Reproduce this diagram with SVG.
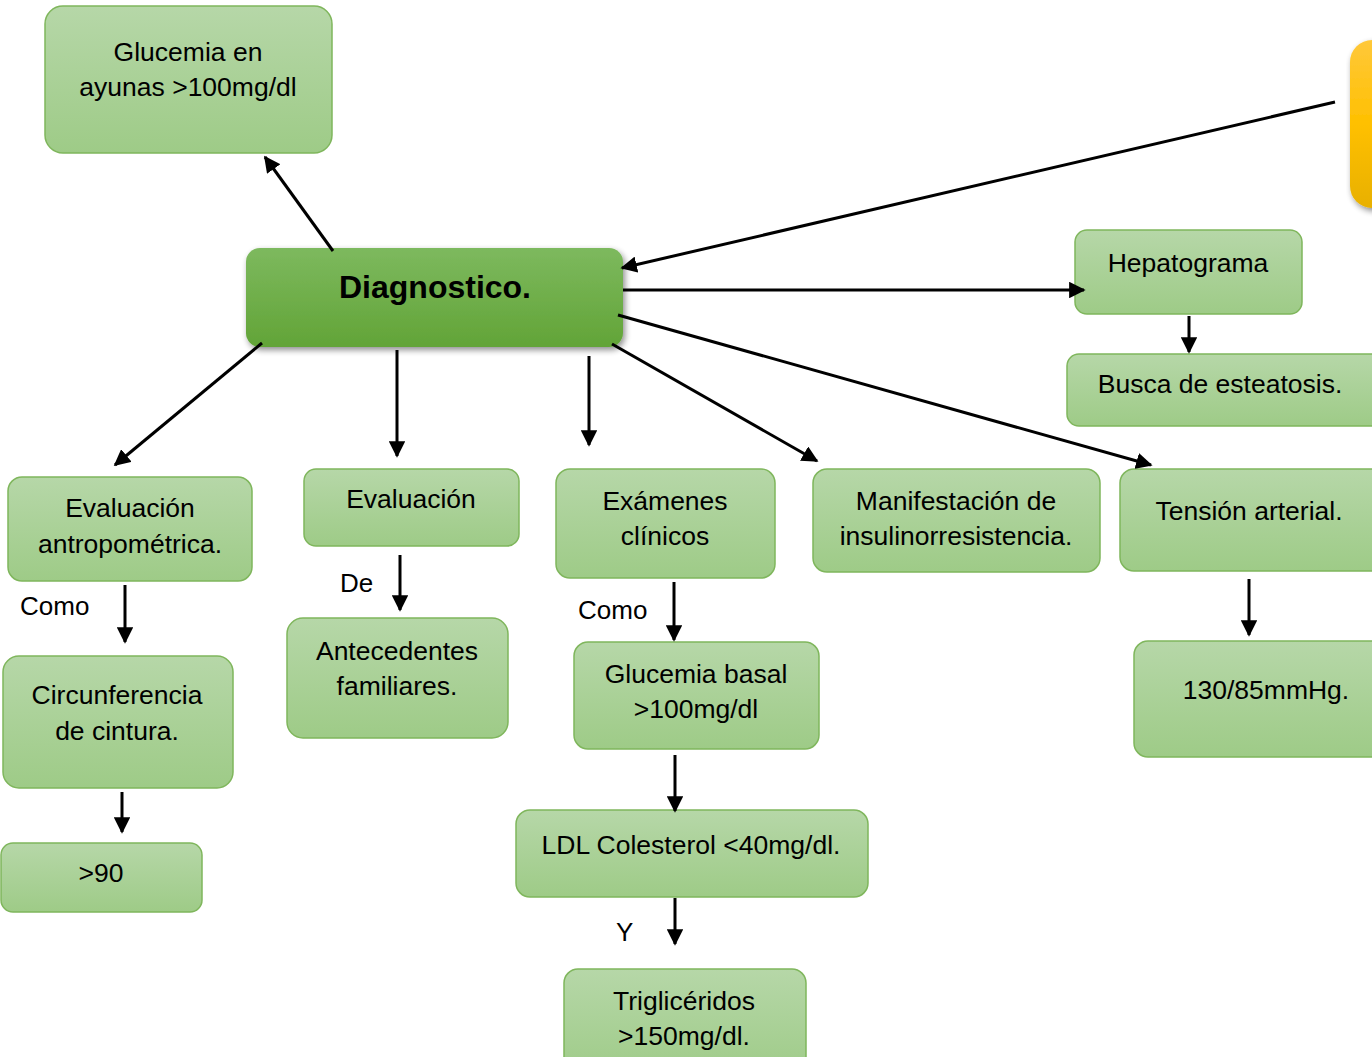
<svg xmlns="http://www.w3.org/2000/svg" width="1372" height="1057" viewBox="0 0 1372 1057">
<defs>
<linearGradient id="lg" x1="0" y1="0" x2="0" y2="1"><stop offset="0" stop-color="#b6d7a8"/><stop offset="1" stop-color="#9ecb87"/></linearGradient>
<linearGradient id="dg" x1="0" y1="0" x2="0" y2="1"><stop offset="0" stop-color="#7db95e"/><stop offset="1" stop-color="#62a437"/></linearGradient>
<linearGradient id="og" x1="0" y1="0" x2="0" y2="1"><stop offset="0" stop-color="#ffc83a"/><stop offset="0.5" stop-color="#ffc000"/><stop offset="1" stop-color="#e8b000"/></linearGradient>
<filter id="sh" x="-10%" y="-10%" width="125%" height="130%"><feGaussianBlur in="SourceAlpha" stdDeviation="3"/><feOffset dx="2" dy="3"/><feComponentTransfer><feFuncA type="linear" slope="0.45"/></feComponentTransfer><feMerge><feMergeNode/><feMergeNode in="SourceGraphic"/></feMerge></filter>
<marker id="ah" viewBox="0 0 10 10" refX="9" refY="5" markerWidth="5.5" markerHeight="5.5" orient="auto" markerUnits="strokeWidth"><path d="M0,0 L10,5 L0,10 Z" fill="#000"/></marker>
</defs>
<style>
.n{fill:url(#lg);stroke:#7fb65c;stroke-width:1.5}
.t{font-family:"Liberation Sans",Arial,sans-serif;font-size:26.5px;fill:#000;text-anchor:middle}
.l{font-family:"Liberation Sans",Arial,sans-serif;font-size:26px;fill:#000}
.c line{stroke:#000;stroke-width:3;marker-end:url(#ah)}
</style>
<rect width="1372" height="1057" fill="#fff"/>
<g id="glucemia-ayunas"><rect class="n" x="45" y="6" width="287" height="147" rx="18"/><text class="t" x="188" y="61">Glucemia en</text><text class="t" x="188" y="96">ayunas &gt;100mg/dl</text></g>
<g id="diagnostico"><rect x="246" y="248" width="377" height="99" rx="14" fill="url(#dg)" filter="url(#sh)"/><text x="435" y="298" font-family="Liberation Sans,Arial,sans-serif" font-size="32" font-weight="bold" text-anchor="middle">Diagnostico.</text></g>
<g id="orange"><rect x="1350" y="40" width="60" height="168" rx="22" fill="url(#og)" filter="url(#sh)"/></g>
<g id="hepatograma"><rect class="n" x="1075" y="230" width="227" height="84" rx="12"/><text class="t" x="1188" y="272">Hepatograma</text></g>
<g id="esteatosis"><rect class="n" x="1067" y="354" width="320" height="72" rx="12"/><text class="t" x="1220" y="393">Busca de esteatosis.</text></g>
<g id="antropometrica"><rect class="n" x="8" y="477" width="244" height="104" rx="14"/><text class="t" x="130" y="517">Evaluación</text><text class="t" x="130" y="553">antropométrica.</text></g>
<g id="evaluacion"><rect class="n" x="304" y="469" width="215" height="77" rx="12"/><text class="t" x="411" y="508">Evaluación</text></g>
<g id="examenes"><rect class="n" x="556" y="469" width="219" height="109" rx="14"/><text class="t" x="665" y="510">Exámenes</text><text class="t" x="665" y="545">clínicos</text></g>
<g id="manifestacion"><rect class="n" x="813" y="469" width="287" height="103" rx="14"/><text class="t" x="956" y="510">Manifestación de</text><text class="t" x="956" y="545">insulinorresistencia.</text></g>
<g id="tension"><rect class="n" x="1120" y="469" width="267" height="102" rx="14"/><text class="t" x="1249" y="520">Tensión arterial.</text></g>
<g id="circunferencia"><rect class="n" x="3" y="656" width="230" height="132" rx="16"/><text class="t" x="117" y="704">Circunferencia</text><text class="t" x="117" y="740">de cintura.</text></g>
<g id="mayor90"><rect class="n" x="1" y="843" width="201" height="69" rx="12"/><text class="t" x="101" y="882">&gt;90</text></g>
<g id="antecedentes"><rect class="n" x="287" y="618" width="221" height="120" rx="16"/><text class="t" x="397" y="660">Antecedentes</text><text class="t" x="397" y="695">familiares.</text></g>
<g id="glucemia-basal"><rect class="n" x="574" y="642" width="245" height="107" rx="14"/><text class="t" x="696" y="683">Glucemia basal</text><text class="t" x="696" y="718">&gt;100mg/dl</text></g>
<g id="ldl"><rect class="n" x="516" y="810" width="352" height="87" rx="14"/><text class="t" x="691" y="854">LDL Colesterol &lt;40mg/dl.</text></g>
<g id="trigliceridos"><rect class="n" x="564" y="969" width="242" height="110" rx="14"/><text class="t" x="684" y="1010">Triglicéridos</text><text class="t" x="684" y="1045">&gt;150mg/dl.</text></g>
<g id="presion"><rect class="n" x="1134" y="641" width="253" height="116" rx="14"/><text class="t" x="1266" y="699">130/85mmHg.</text></g>
<g class="c">
<line x1="333" y1="251" x2="265" y2="157"/>
<line x1="1335" y1="102" x2="622" y2="268"/>
<line x1="623" y1="290" x2="1084" y2="290"/>
<line x1="1189" y1="316" x2="1189" y2="352"/>
<line x1="262" y1="343" x2="115" y2="465"/>
<line x1="397" y1="350" x2="397" y2="456"/>
<line x1="589" y1="356" x2="589" y2="445"/>
<line x1="612" y1="344" x2="817" y2="461"/>
<line x1="618" y1="315" x2="1151" y2="465"/>
<line x1="125" y1="585" x2="125" y2="642"/>
<line x1="400" y1="555" x2="400" y2="610"/>
<line x1="674" y1="582" x2="674" y2="640"/>
<line x1="122" y1="792" x2="122" y2="832"/>
<line x1="675" y1="755" x2="675" y2="811"/>
<line x1="675" y1="898" x2="675" y2="944"/>
<line x1="1249" y1="579" x2="1249" y2="635"/>
</g>
<g id="labels">
<text class="l" x="20" y="615">Como</text>
<text class="l" x="340" y="592">De</text>
<text class="l" x="578" y="619">Como</text>
<text class="l" x="616" y="941">Y</text>
</g>
</svg>
